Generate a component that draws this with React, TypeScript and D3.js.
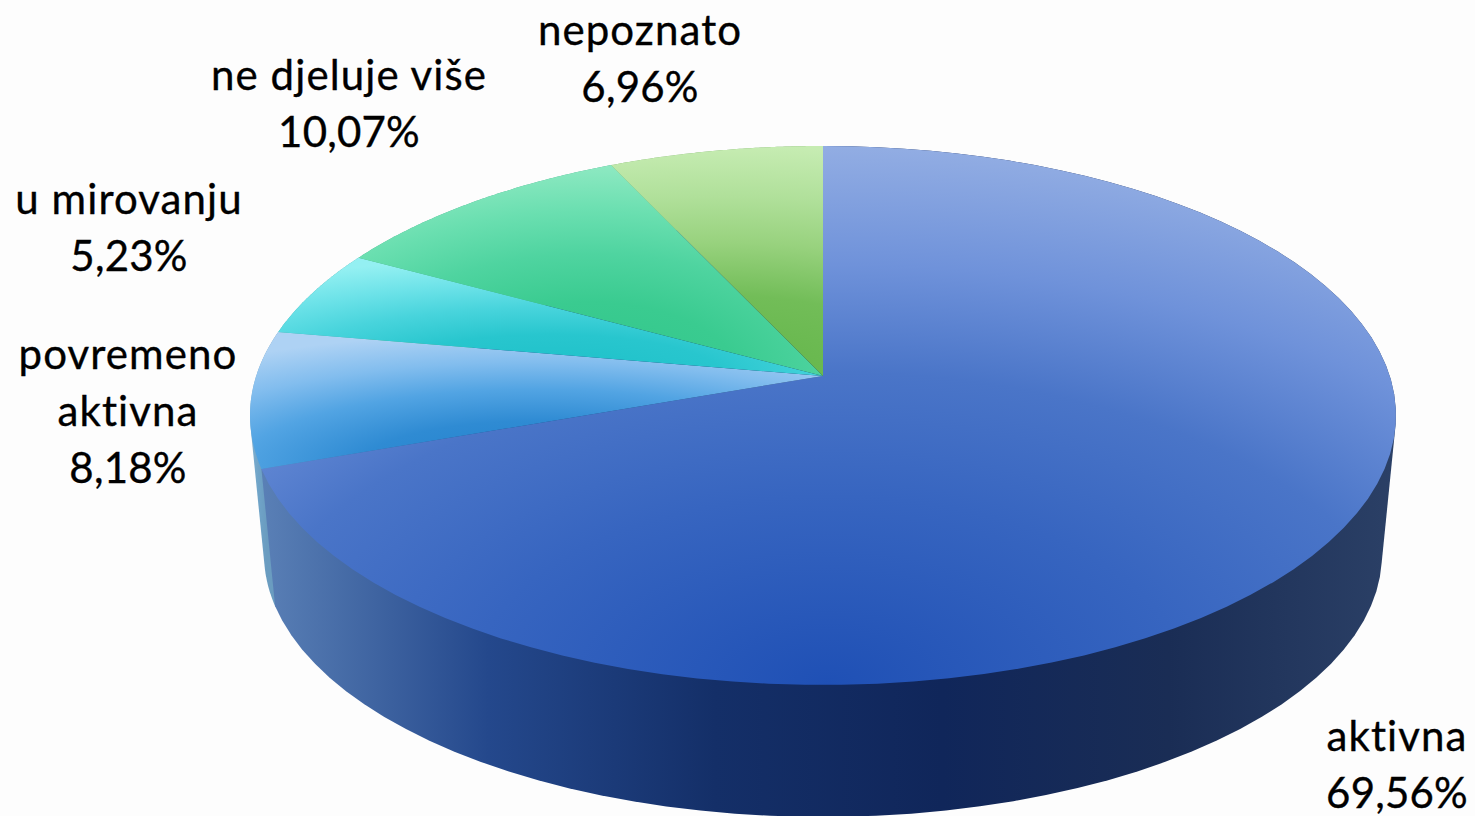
import React from "react";
import * as d3 from "d3";

const categories = ["aktivna", "povremeno aktivna", "u mirovanju", "ne djeluje više", "nepoznato"];
const shares = [69.56, 8.18, 5.23, 10.07, 6.96];
const shareLabels = ["69,56%", "8,18%", "5,23%", "10,07%", "6,96%"];
const labelLines = [["aktivna"], ["povremeno", "aktivna"], ["u mirovanju"], ["ne djeluje više"], ["nepoznato"]];

const W = 1475, H = 816;
const topOffsets = [0, 0.35, 0.58, 0.78, 1];
const topStops = [
  ["#1f50b5", "#3765c0", "#4a75c8", "#6f92da", "#92ade3"],
  ["#2080cc", "#2f8bd3", "#52a4e3", "#82bdee", "#aed2f4"],
  ["#1cc0c8", "#28c6ce", "#48d4dc", "#6ce2e8", "#94f0f2"],
  ["#30c68a", "#3acb90", "#4fd4a0", "#6adfb0", "#8ee9c2"],
  ["#62b548", "#72bd58", "#98d27e", "#b0e09a", "#c6ecb2"],
];
const topSpreadX = [0.9, 0.9, 0.9, 0.9, 3];
const wallStops = [
  ["#5a80b6", "#24488c", "#142f68", "#10265a", "#1a2d55", "#2b4066"],
  ["#7fb0d0", "#70a4c8", "#6a9cc0", "#6a9cc0", "#6a9cc0", "#6a9cc0"],
  ["#4aa", "#4aa", "#4aa", "#4aa", "#4aa", "#4aa"],
  ["#4a8", "#4a8", "#4a8", "#4a8", "#4a8", "#4a8"],
  ["#7a6", "#7a6", "#7a6", "#7a6", "#7a6", "#7a6"],
];
const labelAnchors = [[1397, 751], [128, 369], [129, 214], [349, 90], [640, 45]];

// perspective projection of the disc
const apexX = 823, apexY = 376;
const persp = 0.1465, A = 263.7, B = 566.8;
const lowScale = 0.9756, lowY = 515.5;

const rim = (t: number, low: boolean): [number, number] => {
  const u = Math.sin(t), v = -Math.cos(t), k = 1 - persp * v;
  const s = low ? lowScale : 1;
  return [apexX + (s * B * u) / k, (low ? lowY : apexY) + (s * A * v) / k];
};

const line = d3.line();
const arcs = d3.pie<number>().sort(null).value((d) => d)(shares);

const sample = (a0: number, a1: number, low: boolean) =>
  d3.range(0, 81).map((i) => rim(d3.interpolateNumber(a0, a1)(i / 80), low));

export default function App() {
  return (
    <svg width={W} height={H} viewBox={`0 0 ${W} ${H}`} style={{ position: "fixed", left: 0, top: 0, display: "block", background: "#fdfdfd" }}>
      <defs>
        {arcs.map((a, i) => (
          <radialGradient key={i} id={`top${i}`} gradientUnits="objectBoundingBox" cx={0} cy={0} r={1} fx={0} fy={0}
            gradientTransform={`translate(0.5,1) scale(${topSpreadX[i]},1)`}>
            {topStops[i].map((c, j) => (
              <stop key={j} offset={topOffsets[j]} stopColor={c} />
            ))}
          </radialGradient>
        ))}
        {arcs.map((a, i) => (
          <linearGradient key={i} id={`wall${i}`} x1="0" x2="1" y1="0" y2="0">
            {wallStops[i].map((c, j) => (
              <stop key={j} offset={[0, 0.2, 0.4, 0.6, 0.8, 1][j]} stopColor={c} />
            ))}
          </linearGradient>
        ))}
      </defs>
      {/* side walls, back slices first */}
      {arcs.map((a, i) => i).reverse().map((i) => {
        const a = arcs[i];
        const hull = d3.polygonHull([...sample(a.startAngle, a.endAngle, false), ...sample(a.startAngle, a.endAngle, true)]);
        return <path key={i} d={line(hull as [number, number][]) + "Z"} fill={`url(#wall${i})`} />;
      })}
      {/* top faces */}
      {arcs.map((a, i) => {
        const pts: [number, number][] = [[apexX, apexY], ...sample(a.startAngle, a.endAngle, false)];
        return <path key={i} d={line(pts) + "Z"} fill={`url(#top${i})`} />;
      })}
      {/* labels */}
      <g fontFamily="Lato, sans-serif" fontSize={42} fill="#000" stroke="#000" strokeWidth={0.35} textAnchor="middle">
        {categories.map((c, i) => {
          const [x, y] = labelAnchors[i];
          return (
            <text key={c} x={x} y={y}>
              {labelLines[i].map((t, j) => (
                <tspan key={j} x={x} y={y + j * 57} letterSpacing={1.1}>{t}</tspan>
              ))}
              <tspan x={x} y={y + labelLines[i].length * 57} letterSpacing={0.2}>{shareLabels[i]}</tspan>
            </text>
          );
        })}
      </g>
    </svg>
  );
}
